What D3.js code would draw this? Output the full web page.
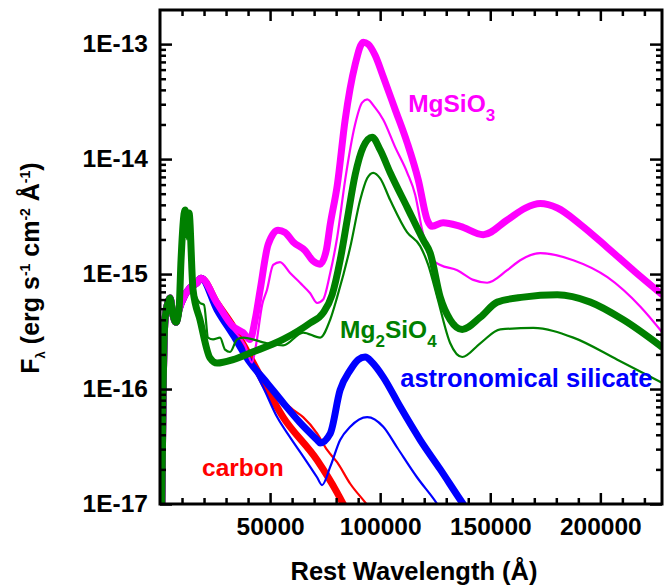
<!DOCTYPE html>
<html>
<head>
<meta charset="utf-8">
<script src="https://cdn.jsdelivr.net/npm/d3@7"></script>
<style>
  body { margin: 0; background: #fff; }
  svg { display: block; }
  text { font-family: "Liberation Sans", Arial, sans-serif; font-weight: bold; }
</style>
</head>
<body>
<svg id="chart" width="667" height="587"></svg>
<script>
// ---- data: rest wavelength (Å) vs. F_lambda (erg s^-1 cm^-2 Å^-1) ----
// near-IR rise shared by every model
const hotRise = [[700,6e-18],[1360,8.0e-17],[2270,4.0e-16],[3640,5.7e-16],[4550,6.2e-16],[5910,4.4e-16],[7270,3.8e-16],[8640,4.9e-16]];
// continuation shared by carbon, astronomical silicate and MgSiO3
const warmBump = [[11360,6.6e-16],[13640,7.6e-16],[16820,8.4e-16],[18640,9.2e-16]];

const carbonThick = [[25900,5.6e-16],[33200,3.5e-16],[40900,1.9e-16],[55900,5.7e-17],[71400,2.4e-17],[80500,1.25e-17],[83200,1.0e-17],[86400,8.0e-18]];
const carbonThin = [[25900,5.6e-16],[33200,3.4e-16],[40900,1.8e-16],[48600,1.13e-16],[60500,6.6e-17],[65000,5.7e-17],[71400,4.1e-17],[75900,2.95e-17],[80500,2.3e-17],[86400,1.5e-17],[94100,9.8e-18],[96400,8.5e-18]];

const silicateThick = [[25900,4.9e-16],[33200,2.95e-16],[40900,1.7e-16],[48600,1.13e-16],[55900,7.6e-17],[63600,5.1e-17],[71400,3.6e-17],[72700,3.4e-17],[77300,4.1e-17],[81800,9.8e-17],[86400,1.46e-16],[90000,1.8e-16],[93200,1.9e-16],[96400,1.7e-16],[101400,1.27e-16],[109100,7.0e-17],[118200,3.6e-17],[127300,2.0e-17],[137700,1.0e-17],[140900,8.2e-18]];
const silicateThin = [[25900,4.9e-16],[33200,2.8e-16],[40900,1.7e-16],[46800,1.04e-16],[53200,5.7e-17],[59100,3.8e-17],[65000,2.6e-17],[71400,1.7e-17],[73600,1.46e-17],[77300,2.1e-17],[81800,3.6e-17],[86400,4.7e-17],[94100,5.7e-17],[101400,4.7e-17],[107700,3.1e-17],[116800,1.7e-17],[125900,1.0e-17],[128200,8.5e-18]];

const mgsio3Thick = [[25900,5.6e-16],[33200,3.5e-16],[37700,3.1e-16],[40900,2.7e-16],[43200,4.0e-16],[45500,7.3e-16],[49100,1.8e-15],[53600,2.4e-15],[56800,2.3e-15],[60500,1.9e-15],[65900,1.6e-15],[69500,1.3e-15],[72700,1.22e-15],[75500,1.6e-15],[77300,2.7e-15],[80500,5.9e-15],[84100,2.2e-14],[88600,6.6e-14],[92300,1.04e-13],[94500,1.0e-13],[97700,8.0e-14],[101400,5.2e-14],[106800,2.7e-14],[112300,1.38e-14],[117300,6.6e-15],[121400,2.95e-15],[123600,2.6e-15],[128600,2.8e-15],[136400,2.6e-15],[146800,2.2e-15],[157700,2.95e-15],[165900,3.75e-15],[172700,4.1e-15],[180500,3.75e-15],[190900,2.7e-15],[203200,1.7e-15],[215900,1.04e-15],[228200,6.6e-16]];
const mgsio3Thin = [[25900,5.5e-16],[33200,3.3e-16],[38600,2.4e-16],[41800,1.7e-16],[43600,2.4e-16],[46400,5.4e-16],[48600,7.3e-16],[51400,1.2e-15],[54500,1.27e-15],[59100,1.02e-15],[63600,8.4e-16],[68200,6.8e-16],[71400,5.6e-16],[74100,6.0e-16],[77300,1.02e-15],[80500,2.1e-15],[84100,6.6e-15],[88600,2.0e-14],[91800,3.1e-14],[94100,3.3e-14],[97700,2.8e-14],[101400,2.2e-14],[106800,1.27e-14],[112300,7.6e-15],[115900,4.9e-15],[119100,2.4e-15],[122700,1.38e-15],[127300,1.2e-15],[135000,1.08e-15],[142300,8.9e-16],[148600,8.4e-16],[157700,1.08e-15],[163600,1.32e-15],[172700,1.52e-15],[187700,1.32e-15],[203200,9.4e-16],[218200,5.2e-16],[228200,3.1e-16]];

const mg2sio4Thick = [[9550,1.32e-15],[11360,3.6e-15],[12270,2.2e-15],[13180,3.4e-15],[15000,7.3e-16],[18180,4.0e-16],[22730,1.86e-16],[25910,1.68e-16],[33180,1.8e-16],[40910,2.06e-16],[55910,2.7e-16],[68180,3.75e-16],[74090,4.6e-16],[78180,6.6e-16],[81820,1.32e-15],[85000,2.95e-15],[88640,7.3e-15],[92270,1.27e-14],[96360,1.55e-14],[100000,1.2e-14],[104550,7.6e-15],[112270,3.8e-15],[119550,1.98e-15],[122730,1.52e-15],[127270,6.3e-16],[131820,4.0e-16],[137270,3.3e-16],[145450,4.2e-16],[153180,5.7e-16],[165000,6.3e-16],[180450,6.6e-16],[195450,5.7e-16],[210450,4.0e-16],[228200,2.3e-16]];
const mg2sio4Thin = [[9550,1.2e-15],[11360,3.3e-15],[12270,2.0e-15],[13180,3.1e-15],[15000,8.0e-16],[18180,5.6e-16],[20000,5.4e-16],[21820,2.8e-16],[24090,2.7e-16],[27270,2.8e-16],[29550,2.2e-16],[31820,2.1e-16],[35000,2.7e-16],[37730,2.8e-16],[48640,2.5e-16],[55910,2.4e-16],[65000,3.1e-16],[72730,2.8e-16],[77270,4.0e-16],[80450,6.3e-16],[86360,1.7e-15],[90910,4.4e-15],[94090,6.8e-15],[96820,7.6e-15],[100000,6.8e-15],[104550,4.4e-15],[112270,2.3e-15],[118180,1.75e-15],[121820,1.2e-15],[125910,6.3e-16],[131820,2.5e-16],[137270,1.9e-16],[145450,2.5e-16],[154550,3.3e-16],[169550,3.4e-16],[187730,2.8e-16],[207730,1.8e-16],[228200,1.13e-16]];

// axis ticks and labels
const xTickValues = [50000, 100000, 150000, 200000];
const xTickLabels = ["50000", "100000", "150000", "200000"];
const xMinorValues = [10000,20000,30000,40000,60000,70000,80000,90000,110000,120000,130000,140000,160000,170000,180000,190000,210000,220000];
const yTickValues = [1e-17, 1e-16, 1e-15, 1e-14, 1e-13];
const yTickLabels = ["1E-17", "1E-16", "1E-15", "1E-14", "1E-13"];
const yMinorValues = [];
[-17, -16, -15, -14].forEach(e => [2,3,4,5,6,7,8,9].forEach(k => yMinorValues.push(k * Math.pow(10, e))));

// series drawn back-to-front
const series = [
  { name: "carbon thin",    color: "#ff0000", width: 2.2, pts: hotRise.concat(warmBump, carbonThin) },
  { name: "carbon thick",   color: "#ff0000", width: 7,   pts: hotRise.concat(warmBump, carbonThick) },
  { name: "silicate thin",  color: "#0000ff", width: 2.2, pts: hotRise.concat(warmBump, silicateThin) },
  { name: "silicate thick", color: "#0000ff", width: 7,   pts: hotRise.concat(warmBump, silicateThick) },
  { name: "MgSiO3 thin",    color: "#ff00ff", width: 2.2, pts: hotRise.concat(warmBump, mgsio3Thin) },
  { name: "MgSiO3 thick",   color: "#ff00ff", width: 7,   pts: hotRise.concat(warmBump, mgsio3Thick) },
  { name: "Mg2SiO4 thin",   color: "#008000", width: 2.2, pts: hotRise.concat(mg2sio4Thin) },
  { name: "Mg2SiO4 thick",  color: "#008000", width: 7,   pts: hotRise.concat(mg2sio4Thick) }
];

// ---- layout ----
const plot = { left: 160, right: 662, top: 10, bottom: 504 };
const svg = d3.select("#chart");

const x = d3.scaleLinear().domain([0, 228000]).range([plot.left, plot.right]);
const y = d3.scaleLog().domain([1e-17, 1.98e-13]).range([plot.bottom, plot.top]);

svg.append("defs").append("clipPath").attr("id", "plot-clip")
  .append("rect")
  .attr("x", plot.left).attr("y", plot.top)
  .attr("width", plot.right - plot.left).attr("height", plot.bottom - plot.top);

// ---- curves ----
const line = d3.line()
  .x(d => x(d[0]))
  .y(d => y(d[1]))
  .curve(d3.curveMonotoneX);

svg.append("g").attr("clip-path", "url(#plot-clip)")
  .selectAll("path")
  .data(series)
  .join("path")
  .attr("d", d => line(d.pts))
  .attr("fill", "none")
  .attr("stroke", d => d.color)
  .attr("stroke-width", d => d.width)
  .attr("stroke-linejoin", "round")
  .attr("stroke-linecap", "butt");

// ---- axes (ticks point inward on all four sides) ----
function styleAxis(g) {
  g.select(".domain").remove();
  g.selectAll(".tick line").attr("stroke", "#000").attr("stroke-width", 2.5);
  g.selectAll(".tick text").attr("fill", "#000").style("font-size", "24.5px");
}

svg.append("g").attr("transform", `translate(0,${plot.bottom})`)
  .call(d3.axisBottom(x).tickValues(xTickValues).tickFormat((d, i) => xTickLabels[i])
    .tickSizeInner(-11).tickSizeOuter(0).tickPadding(14))
  .call(styleAxis);
svg.append("g").attr("transform", `translate(0,${plot.bottom})`)
  .call(d3.axisBottom(x).tickValues(xMinorValues).tickFormat("").tickSizeInner(-6).tickSizeOuter(0))
  .call(styleAxis);
svg.append("g").attr("transform", `translate(0,${plot.top})`)
  .call(d3.axisTop(x).tickValues(xTickValues).tickFormat("").tickSizeInner(-11).tickSizeOuter(0))
  .call(styleAxis);
svg.append("g").attr("transform", `translate(0,${plot.top})`)
  .call(d3.axisTop(x).tickValues(xMinorValues).tickFormat("").tickSizeInner(-6).tickSizeOuter(0))
  .call(styleAxis);

svg.append("g").attr("transform", `translate(${plot.left},0)`)
  .call(d3.axisLeft(y).tickValues(yTickValues).tickFormat((d, i) => yTickLabels[i])
    .tickSizeInner(-12).tickSizeOuter(0).tickPadding(12))
  .call(styleAxis);
svg.append("g").attr("transform", `translate(${plot.left},0)`)
  .call(d3.axisLeft(y).tickValues(yMinorValues).tickFormat("").tickSizeInner(-6).tickSizeOuter(0))
  .call(styleAxis);
svg.append("g").attr("transform", `translate(${plot.right},0)`)
  .call(d3.axisRight(y).tickValues(yTickValues).tickFormat("").tickSizeInner(-12).tickSizeOuter(0))
  .call(styleAxis);
svg.append("g").attr("transform", `translate(${plot.right},0)`)
  .call(d3.axisRight(y).tickValues(yMinorValues).tickFormat("").tickSizeInner(-6).tickSizeOuter(0))
  .call(styleAxis);

// frame
svg.append("rect")
  .attr("x", plot.left).attr("y", plot.top)
  .attr("width", plot.right - plot.left).attr("height", plot.bottom - plot.top)
  .attr("fill", "none").attr("stroke", "#000").attr("stroke-width", 3);

// ---- axis titles ----
svg.append("text")
  .attr("x", 414).attr("y", 580)
  .attr("text-anchor", "middle").style("font-size", "25.5px")
  .text("Rest Wavelength (Å)");

const yTitle = svg.append("text")
  .attr("transform", `translate(39,268) rotate(-90)`)
  .attr("text-anchor", "middle").style("font-size", "25px");
yTitle.append("tspan").text("F");
yTitle.append("tspan").attr("dy", 6).style("font-size", "13px").text("λ");
yTitle.append("tspan").attr("dy", -6).text(" (erg s");
yTitle.append("tspan").attr("dy", -9).style("font-size", "14px").text("-1");
yTitle.append("tspan").attr("dy", 9).text(" cm");
yTitle.append("tspan").attr("dy", -9).style("font-size", "14px").text("-2");
yTitle.append("tspan").attr("dy", 9).text(" Å");
yTitle.append("tspan").attr("dy", -9).style("font-size", "14px").text("-1");
yTitle.append("tspan").attr("dy", 9).text(")");

// ---- curve labels ----
function chemLabel(parts, lam, flux, color, size) {
  const t = svg.append("text").attr("x", x(lam)).attr("y", y(flux))
    .attr("fill", color).style("font-size", size + "px");
  let shift = 0;
  parts.forEach(p => {
    const target = p.sub ? 9 : 0;
    t.append("tspan").attr("dy", target - shift)
      .style("font-size", p.sub ? "17px" : size + "px").text(p.t);
    shift = target;
  });
}
chemLabel([{t: "MgSiO"}, {t: "3", sub: true}], 112700, 2.56e-14, "#ff00ff", 24.5);
chemLabel([{t: "Mg"}, {t: "2", sub: true}, {t: "SiO"}, {t: "4", sub: true}], 81800, 2.77e-16, "#008000", 24.5);
chemLabel([{t: "astronomical silicate"}], 109100, 1.04e-16, "#0000ff", 25.5);
chemLabel([{t: "carbon"}], 19100, 1.75e-17, "#ff0000", 24.5);
</script>
</body>
</html>
